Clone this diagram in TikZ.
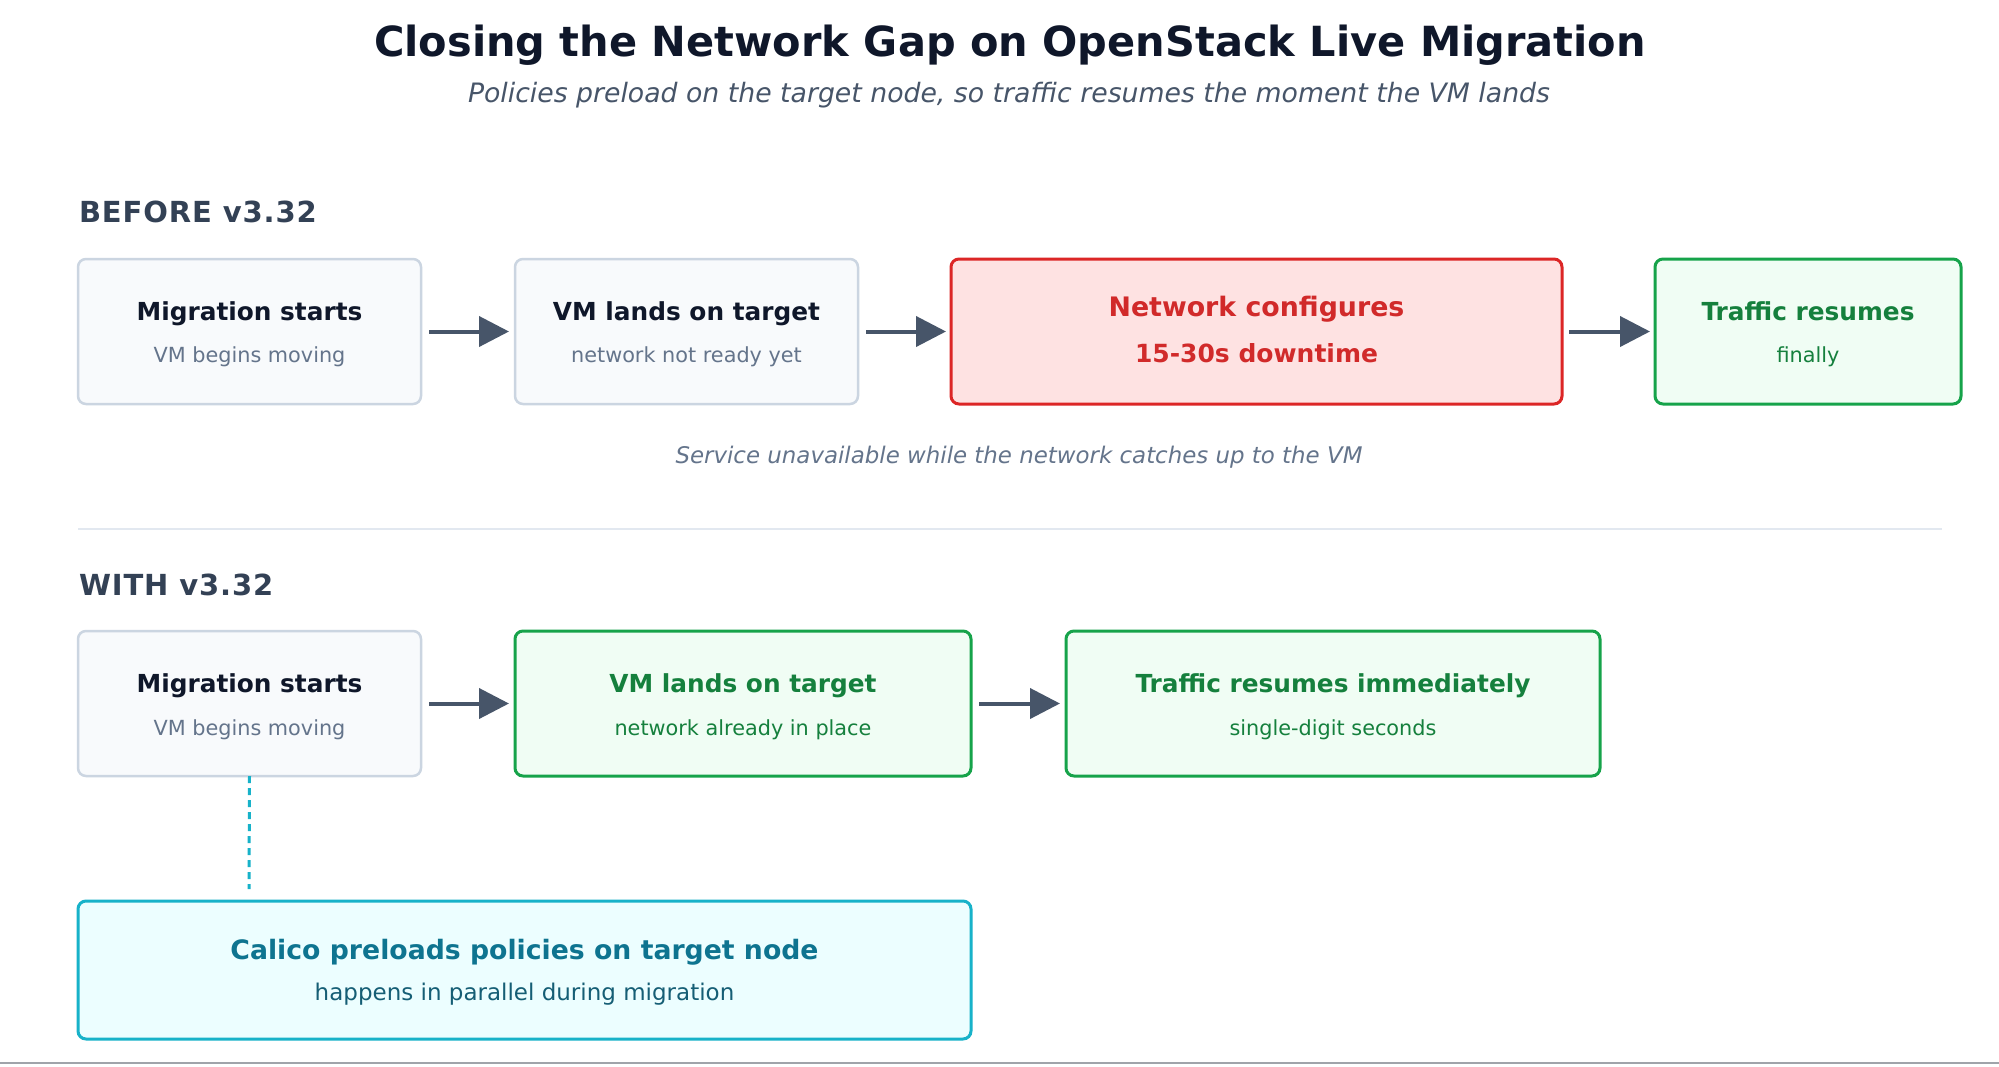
\documentclass[tikz,border=0pt]{standalone}
\usepackage{fontspec}
\setmainfont{DejaVu Sans}
\usetikzlibrary{arrows.meta,calc}
\definecolor{ink}{HTML}{0F172A}
\definecolor{subink}{HTML}{475569}
\definecolor{secink}{HTML}{334155}
\definecolor{mutedink}{HTML}{64748B}
\definecolor{grayfill}{HTML}{F8FAFC}
\definecolor{grayline}{HTML}{CBD5E1}
\definecolor{redfill}{HTML}{FEE2E2}
\definecolor{redline}{HTML}{DC2626}
\definecolor{redink}{HTML}{D12A2A}
\definecolor{greenfill}{HTML}{F0FDF4}
\definecolor{greenline}{HTML}{16A34A}
\definecolor{greenink}{HTML}{15803D}
\definecolor{cyanfill}{HTML}{ECFEFF}
\definecolor{cyanline}{HTML}{17B2C9}
\definecolor{cyanink}{HTML}{0E7490}
\definecolor{cyansub}{HTML}{155E75}
\definecolor{arrowc}{HTML}{475569}
\definecolor{divider}{HTML}{E2E8F0}
\definecolor{edge}{HTML}{A0A4AA}
\tikzset{
  boxbase/.style={rectangle, rounded corners=8pt, inner sep=0pt, outer sep=0pt},
  graybox/.style={boxbase, fill=grayfill, draw=grayline, line width=2.5pt},
  redbox/.style={boxbase, fill=redfill, draw=redline, line width=3pt},
  greenbox/.style={boxbase, fill=greenfill, draw=greenline, line width=3pt},
  cyanbox/.style={boxbase, fill=cyanfill, draw=cyanline, line width=3pt},
  txt/.style={inner sep=0pt, outer sep=0pt, anchor=base},
  ttl/.style={txt, font=\fontsize{24.8}{30}\selectfont\bfseries},
  sub/.style={txt, font=\fontsize{20.8}{25}\selectfont},
  arr/.style={draw=arrowc, line width=4pt, -{Triangle[length=30pt,width=30pt]}},
  seclbl/.style={txt, anchor=base west, text=secink, font=\fontsize{29}{34}\selectfont\bfseries\addfontfeature{LetterSpace=3}},
}
\begin{document}
\begin{tikzpicture}[x=1pt,y=-1pt]
\useasboundingbox (0,0) rectangle (1999,1066);
\fill[white] (0,0) rectangle (1999,1066);

% title
\node[txt, text=ink, font=\fontsize{41.5}{48}\selectfont\bfseries] (title) at (1010,56) {Closing the Network Gap on OpenStack Live Migration};
\node[txt, text=subink, font=\fontsize{26.7}{32}\selectfont\itshape] (subtitle) at (1009,102) {Policies preload on the target node, so traffic resumes the moment the VM lands};

% section 1
\node[seclbl] (sec1) at (79,222.5) {BEFORE v3.32};

\node[graybox, minimum width=343pt, minimum height=145pt] (b1) at (249.5,331.5) {};
\node[graybox, minimum width=343pt, minimum height=145pt] (b2) at (686.5,331.5) {};
\node[redbox, minimum width=611pt, minimum height=145pt] (b3) at (1256.5,331.5) {};
\node[greenbox, minimum width=306pt, minimum height=145pt] (b4) at (1808,331.5) {};

\node[ttl, text=ink] (b1t) at (249.5,320) {Migration starts};
\node[sub, text=mutedink] (b1s) at (249.5,362) {VM begins moving};
\node[ttl, text=ink] (b2t) at (686.5,320) {VM lands on target};
\node[sub, text=mutedink] (b2s) at (686.5,362) {network not ready yet};
\node[ttl, text=redink, font=\fontsize{26.8}{32}\selectfont\bfseries] (b3t) at (1256.5,316) {Network configures};
\node[ttl, text=redink, font=\fontsize{25}{30}\selectfont\bfseries] (b3s) at (1256.5,362) {15-30s downtime};
\node[ttl, text=greenink] (b4t) at (1808,320) {Traffic resumes};
\node[sub, text=greenink] (b4s) at (1808,362) {finally};

\draw[arr] ([xshift=8pt]b1.east) -- ([xshift=-6pt]b2.west);
\draw[arr] ([xshift=8pt]b2.east) -- ([xshift=-5pt]b3.west);
\draw[arr] ([xshift=7pt]b3.east) -- ([xshift=-5pt]b4.west);

\node[txt, text=mutedink, font=\fontsize{22.9}{28}\selectfont\itshape] (cap) at (1019,463) {Service unavailable while the network catches up to the VM};

% divider
\coordinate (dl) at (78,529);
\coordinate (dr) at (1942,529);
\draw[divider, line width=1.5pt] (dl) -- (dr);

% section 2
\node[seclbl] (sec2) at (79,595) {WITH v3.32};

\node[graybox, minimum width=343pt, minimum height=145pt] (c1) at (249.5,703.5) {};
\node[greenbox, minimum width=456pt, minimum height=145pt] (c2) at (743,703.5) {};
\node[greenbox, minimum width=534pt, minimum height=145pt] (c3) at (1333,703.5) {};

\node[ttl, text=ink] (c1t) at (249.5,692.5) {Migration starts};
\node[sub, text=mutedink] (c1s) at (249.5,735) {VM begins moving};
\node[ttl, text=greenink] (c2t) at (743,692.5) {VM lands on target};
\node[sub, text=greenink] (c2s) at (743,735) {network already in place};
\node[ttl, text=greenink] (c3t) at (1333,692.5) {Traffic resumes immediately};
\node[sub, text=greenink] (c3s) at (1333,735) {single-digit seconds};

\draw[arr] ([xshift=8pt]c1.east) -- ([xshift=-6pt]c2.west);
\draw[arr] ([xshift=8pt]c2.east) -- ([xshift=-6pt]c3.west);

\node[cyanbox, minimum width=893pt, minimum height=138pt] (cal) at (524.5,970) {};
\node[ttl, text=cyanink, font=\fontsize{26.7}{32}\selectfont\bfseries] (calt) at (524.5,959) {Calico preloads policies on target node};
\node[sub, text=cyansub, font=\fontsize{23}{28}\selectfont] (cals) at (524.5,1000.5) {happens in parallel during migration};

\coordinate (dashend) at (249,889);
\draw[cyanline, line width=3pt, dash pattern=on 7pt off 5pt] (c1.south) -- (dashend);

% bottom edge
\coordinate (el) at (0,1063);
\coordinate (er) at (1999,1063);
\draw[edge, line width=2pt] (el) -- (er);
\end{tikzpicture}
\end{document}
